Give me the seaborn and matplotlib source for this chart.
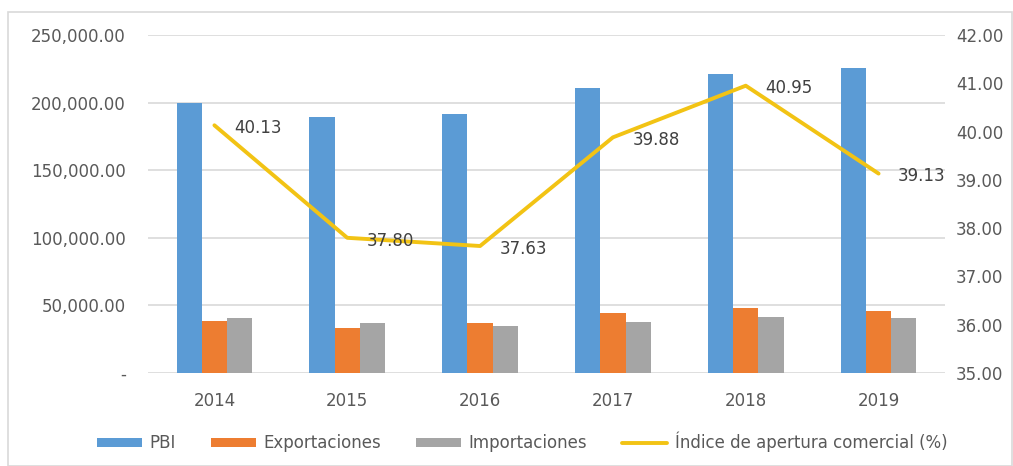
import numpy as np
import pandas as pd
import matplotlib
matplotlib.use("Agg")
import matplotlib.pyplot as plt
import seaborn as sns
from matplotlib.patches import Patch, Rectangle
from matplotlib.lines import Line2D
from matplotlib.ticker import FuncFormatter, MultipleLocator

# ---- data ----
years = ["2014", "2015", "2016", "2017", "2018", "2019"]
pbi = [200000, 189100, 191300, 210500, 221100, 225300]
exportaciones = [38700, 33500, 36700, 44100, 48300, 46100]
importaciones = [40400, 36700, 34800, 38000, 41700, 40400]
indice = [40.13, 37.80, 37.63, 39.88, 40.95, 39.13]
series_names = ["PBI", "Exportaciones", "Importaciones"]
line_name = "Índice de apertura comercial (%)"

colors = ["#5B9BD5", "#ED7D31", "#A5A5A5"]
line_color = "#F2C314"
text_color = "#595959"

sns.set_theme(style="white")
plt.rcParams["font.family"] = ["DejaVu Sans"]

df = pd.DataFrame({
    "Año": years * 3,
    "Valor": pbi + exportaciones + importaciones,
    "Serie": sum([[n] * len(years) for n in series_names], []),
})

fig = plt.figure(figsize=(10.13, 4.66), dpi=100)
fig.patches.append(Rectangle((8 / 1013, 0.0), 1 - 9 / 1013, 1 - 12 / 466,
                             transform=fig.transFigure, fill=False,
                             edgecolor="#D9D9D9", linewidth=1.2))
ax = fig.add_axes([148 / 1013, 1 - 373 / 466, (945 - 148) / 1013, (373 - 35) / 466])

sns.barplot(data=df, x="Año", y="Valor", hue="Serie", palette=colors,
            width=0.57, ax=ax, legend=False, saturation=1, errorbar=None,
            linewidth=0, edgecolor="none")
ax.set_ylim(0, 250000)
ax.yaxis.set_major_locator(MultipleLocator(50000))
ax.yaxis.set_major_formatter(FuncFormatter(lambda v, p: "-" if v == 0 else f"{v:,.2f}"))
ax.grid(axis="y", color="#D9D9D9", linewidth=1.2)
ax.set_axisbelow(True)
ax.set_xlabel("")
ax.set_ylabel("")
for s in ax.spines.values():
    s.set_visible(False)
ax.tick_params(axis="y", length=0, pad=16, labelsize=12, labelcolor=text_color)
ax.tick_params(axis="x", length=0, pad=14, labelsize=12, labelcolor=text_color)

ax2 = ax.twinx()
sns.lineplot(x=np.arange(len(years)), y=indice, ax=ax2, color=line_color,
             linewidth=2.8)
ax2.set_ylim(35, 42)
ax2.set_xlim(-0.5, len(years) - 0.5)
ax2.yaxis.set_major_locator(MultipleLocator(1))
ax2.yaxis.set_major_formatter(FuncFormatter(lambda v, p: f"{v:.2f}"))
ax2.tick_params(axis="y", length=0, pad=8, labelsize=12, labelcolor=text_color)
ax2.set_ylabel("")
for s in ax2.spines.values():
    s.set_visible(False)
for i, v in enumerate(indice):
    ax2.annotate(f"{v:.2f}", (i, v), xytext=(14, -2), textcoords="offset points",
                 ha="left", va="center", fontsize=12, color="#404040")

handles = [Patch(facecolor=c, edgecolor="none") for c in colors]
handles.append(Line2D([0], [0], color=line_color, linewidth=2.8))
fig.legend(handles, series_names + [line_name], loc="center",
           bbox_to_anchor=(522 / 1013, 1 - 442 / 466), ncol=4, frameon=False,
           fontsize=12, labelcolor=text_color, handlelength=2.7,
           handleheight=0.4, handletextpad=0.45, columnspacing=2.1)

fig.savefig("out.png", dpi=100)
